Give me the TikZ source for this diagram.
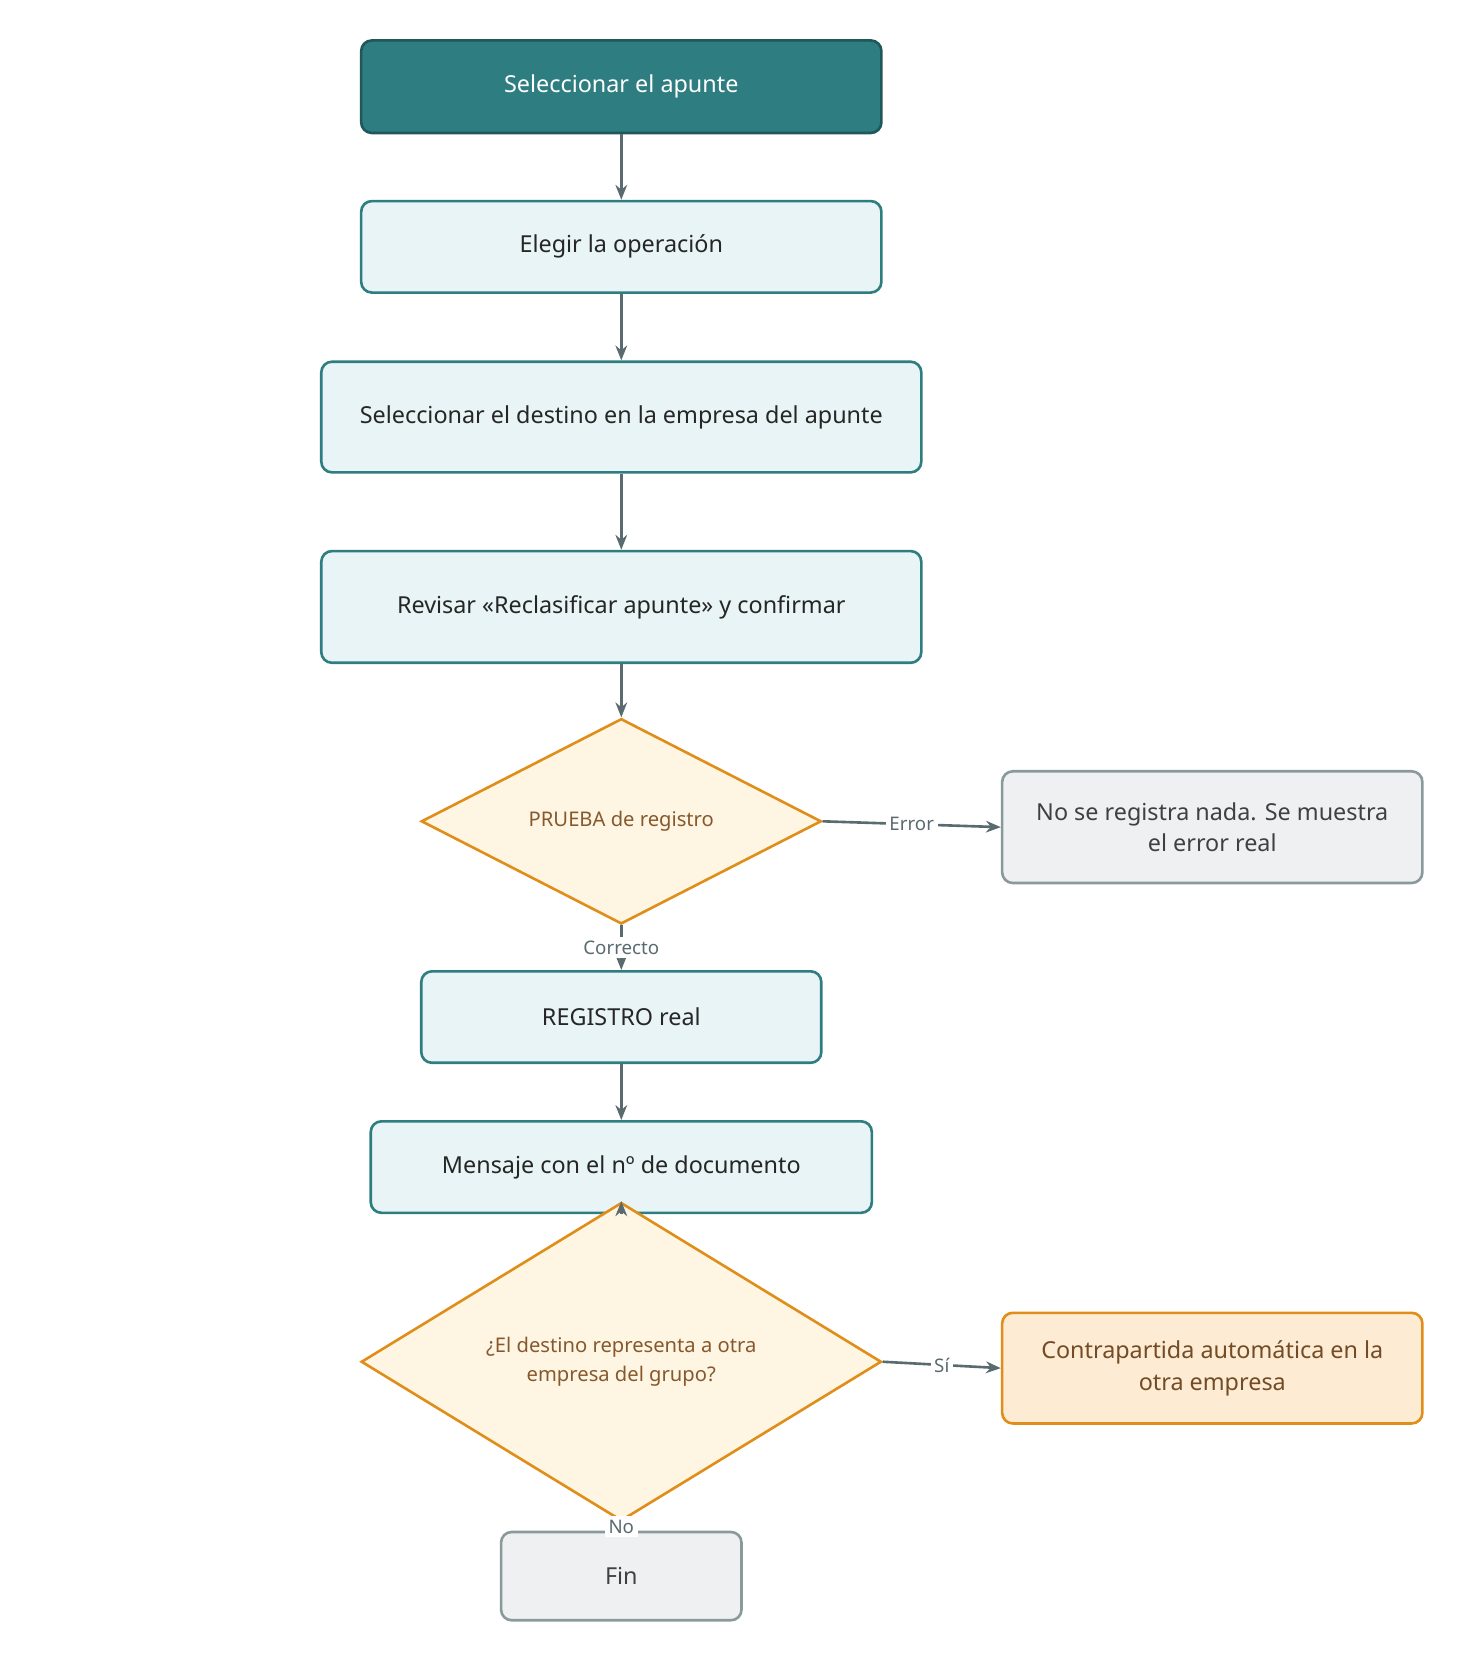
\documentclass[tikz,border=0pt]{standalone}
\usepackage{fontspec}
\setmainfont{Noto Sans}
\usetikzlibrary{positioning,shapes.geometric,arrows.meta}
\definecolor{tealDark}{HTML}{2E7D80}
\definecolor{tealLight}{HTML}{E8F4F5}
\definecolor{decFill}{HTML}{FFF5E3}
\definecolor{decLine}{HTML}{E08E1A}
\definecolor{outFill}{HTML}{FDEBD3}
\definecolor{greyFill}{HTML}{EEF0F1}
\definecolor{greyLine}{HTML}{8A9A9A}
\definecolor{arrowColor}{HTML}{5A6B70}
\tikzset{
    stepbox/.style={
        rectangle, rounded corners=0.2cm, draw=tealDark, fill=tealLight,
        line width=1.4pt, text=black!85, font=\fontsize{12.5}{17}\selectfont,
        align=center
    },
    startbox/.style={stepbox, fill=tealDark, draw=tealDark!70!black, text=white},
    endbox/.style={stepbox, draw=greyLine, fill=greyFill, text=black!75},
    outbox/.style={stepbox, draw=decLine, fill=outFill, text=brown!60!black},
    decision/.style={
        diamond, draw=decLine, fill=decFill, line width=1.4pt, inner sep=0pt,
        text=brown!70!black, font=\fontsize{10.8}{15}\selectfont, align=center
    },
    ptr/.style={-{Stealth[length=0.28cm,width=0.22cm]}, draw=arrowColor, line width=1.4pt},
    edgelabel/.style={fill=white, text=arrowColor, font=\fontsize{10}{12}\selectfont, inner sep=2pt}
}
\begin{document}
\begin{tikzpicture}
    \useasboundingbox (0,0) rectangle (27.6,-31.32);
    \node[startbox, minimum width=9.78cm, minimum height=1.74cm] (sel) at (11.68,-1.63) {Seleccionar el apunte};
    \node[stepbox, minimum width=9.78cm, minimum height=1.72cm] (op) at (11.68,-4.64) {Elegir la operación};
    \node[stepbox, minimum width=11.28cm, minimum height=2.08cm] (dest) at (11.68,-7.84) {Seleccionar el destino en la empresa del apunte};
    \node[stepbox, minimum width=11.28cm, minimum height=2.1cm] (rev) at (11.68,-11.41) {Revisar «Reclasificar apunte» y confirmar};
    \node[decision, minimum width=7.52cm, minimum height=3.0cm] (prueba) at (11.68,-15.44) {PRUEBA de registro};
    \node[endbox, minimum width=7.9cm, minimum height=2.1cm] (error) at (22.79,-15.55) {No se registra nada. Se muestra\\el error real};
    \node[stepbox, minimum width=7.52cm, minimum height=1.72cm] (reg) at (11.68,-19.12) {REGISTRO real};
    \node[stepbox, minimum width=9.42cm, minimum height=1.72cm] (msg) at (11.68,-21.94) {Mensaje con el nº de documento};
    \node[decision, minimum width=9.78cm, minimum height=3.36cm] (grupo) at (11.68,-25.6) {¿El destino representa a otra\\empresa del grupo?};
    \node[outbox, minimum width=7.9cm, minimum height=2.08cm] (contra) at (22.79,-25.72) {Contrapartida automática en la\\otra empresa};
    \node[endbox, minimum width=4.52cm, minimum height=1.66cm] (fin) at (11.68,-29.63) {Fin};

    \draw[ptr] (sel) -- (op);
    \draw[ptr] (op) -- (dest);
    \draw[ptr] (dest) -- (rev);
    \draw[ptr] (rev) -- (prueba);
    \draw[ptr] (prueba.east) -- node[edgelabel] {Error} (error.west);
    \draw[ptr] (prueba.south) -- node[edgelabel] {Correcto} (reg.north);
    \draw[ptr] (reg) -- (msg);
    \draw[ptr] (msg) -- (grupo);
    \draw[ptr] (grupo.east) -- node[edgelabel] {Sí} (contra.west);
    \draw[ptr] (grupo.south) -- node[edgelabel] {No} (fin.north);
\end{tikzpicture}
\end{document}
